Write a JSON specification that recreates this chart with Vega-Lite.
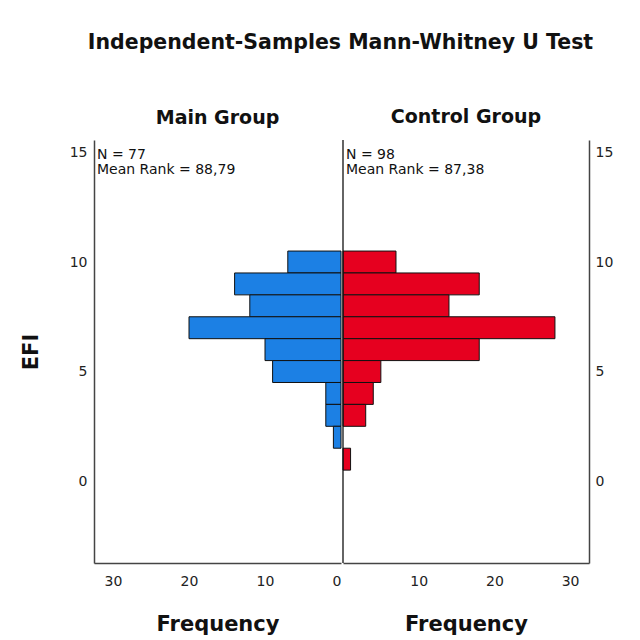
{
  "$schema": "https://vega.github.io/schema/vega-lite/v6.json",
  "padding": {"left": 20, "top": 32, "right": 5, "bottom": 5},
  "background": "white",
  "title": {"text": "Independent-Samples Mann-Whitney U Test", "fontSize": 20.5, "font": "DejaVu Sans", "fontWeight": "bold", "anchor": "middle", "dx": 24, "offset": 55, "color": "#111"},
  "config": {
    "view": {"stroke": null},
    "font": "DejaVu Sans",
    "concat": {"spacing": 0},
    "axis": {"ticks": false, "grid": false, "domainColor": "#444", "domainWidth": 1.5, "labelFontSize": 14, "labelColor": "#222", "titleFontSize": 21, "titleFontWeight": "bold", "titleColor": "#111", "titleFont": "DejaVu Sans", "labelFont": "DejaVu Sans"},
    "title": {"fontSize": 19, "fontWeight": "bold", "color": "#111", "font": "DejaVu Sans"}
  },
  "datasets": {
    "bars": [
      {"group": "Main Group", "efi": 10, "efi_low": 9.5, "efi_high": 10.5, "frequency": 7},
      {"group": "Main Group", "efi": 9, "efi_low": 8.5, "efi_high": 9.5, "frequency": 14},
      {"group": "Main Group", "efi": 8, "efi_low": 7.5, "efi_high": 8.5, "frequency": 12},
      {"group": "Main Group", "efi": 7, "efi_low": 6.5, "efi_high": 7.5, "frequency": 20},
      {"group": "Main Group", "efi": 6, "efi_low": 5.5, "efi_high": 6.5, "frequency": 10},
      {"group": "Main Group", "efi": 5, "efi_low": 4.5, "efi_high": 5.5, "frequency": 9},
      {"group": "Main Group", "efi": 4, "efi_low": 3.5, "efi_high": 4.5, "frequency": 2},
      {"group": "Main Group", "efi": 3, "efi_low": 2.5, "efi_high": 3.5, "frequency": 2},
      {"group": "Main Group", "efi": 2, "efi_low": 1.5, "efi_high": 2.5, "frequency": 1},
      {"group": "Control Group", "efi": 10, "efi_low": 9.5, "efi_high": 10.5, "frequency": 7},
      {"group": "Control Group", "efi": 9, "efi_low": 8.5, "efi_high": 9.5, "frequency": 18},
      {"group": "Control Group", "efi": 8, "efi_low": 7.5, "efi_high": 8.5, "frequency": 14},
      {"group": "Control Group", "efi": 7, "efi_low": 6.5, "efi_high": 7.5, "frequency": 28},
      {"group": "Control Group", "efi": 6, "efi_low": 5.5, "efi_high": 6.5, "frequency": 18},
      {"group": "Control Group", "efi": 5, "efi_low": 4.5, "efi_high": 5.5, "frequency": 5},
      {"group": "Control Group", "efi": 4, "efi_low": 3.5, "efi_high": 4.5, "frequency": 4},
      {"group": "Control Group", "efi": 3, "efi_low": 2.5, "efi_high": 3.5, "frequency": 3},
      {"group": "Control Group", "efi": 1, "efi_low": 0.5, "efi_high": 1.5, "frequency": 1}
    ],
    "stats": [
      {"group": "Main Group", "label": "N = 77\nMean Rank = 88,79"},
      {"group": "Control Group", "label": "N = 98\nMean Rank = 87,38"}
    ]
  },
  "hconcat": [
    {
      "width": 247,
      "height": 423,
      "title": {"text": "Main Group", "offset": 12},
      "layer": [
        {
          "data": {"name": "bars"},
          "transform": [{"filter": "datum.group === 'Main Group'"}],
          "mark": {"type": "rect", "fill": "#1c80e4", "stroke": "#111", "strokeWidth": 1},
          "encoding": {
            "x": {"field": "frequency", "type": "quantitative", "scale": {"domain": [0, 32.5], "reverse": true, "nice": false, "zero": false}, "axis": {"title": "Frequency", "values": [0, 10, 20, 30], "labelPadding": 11, "titlePadding": 25}},
            "x2": {"datum": 0},
            "y": {"field": "efi_low", "type": "quantitative", "scale": {"domain": [-3.74, 15.57], "nice": false, "zero": false}, "axis": {"title": "EFI", "values": [0, 5, 10, 15], "labelPadding": 7, "titlePadding": 28}},
            "y2": {"field": "efi_high"}
          }
        },
        {
          "data": {"name": "stats"},
          "transform": [{"filter": "datum.group === 'Main Group'"}],
          "mark": {"type": "text", "align": "left", "baseline": "top", "lineBreak": "\n", "fontSize": 14, "dx": 3, "dy": 8, "color": "#111", "lineHeight": 15, "font": "DejaVu Sans"},
          "encoding": {
            "x": {"datum": 32.5},
            "y": {"datum": 15.57},
            "text": {"field": "label", "type": "nominal"}
          }
        }
      ]
    },
    {
      "width": 246,
      "height": 423,
      "title": {"text": "Control Group", "offset": 12},
      "layer": [
        {
          "data": {"name": "bars"},
          "transform": [{"filter": "datum.group === 'Control Group'"}],
          "mark": {"type": "rect", "fill": "#e6001f", "stroke": "#111", "strokeWidth": 1},
          "encoding": {
            "x": {"field": "frequency", "type": "quantitative", "scale": {"domain": [0, 32.5], "nice": false, "zero": false}, "axis": {"title": "Frequency", "values": [10, 20, 30], "labelPadding": 11, "titlePadding": 25}},
            "x2": {"datum": 0},
            "y": {"field": "efi_low", "type": "quantitative", "scale": {"domain": [-3.74, 15.57], "nice": false, "zero": false}, "axis": {"title": null, "orient": "right", "values": [0, 5, 10, 15], "labelPadding": 6}},
            "y2": {"field": "efi_high"}
          }
        },
        {
          "data": {"name": "stats"},
          "transform": [{"filter": "datum.group === 'Control Group'"}],
          "mark": {"type": "text", "align": "left", "baseline": "top", "lineBreak": "\n", "fontSize": 14, "dx": 3, "dy": 8, "color": "#111", "lineHeight": 15, "font": "DejaVu Sans"},
          "encoding": {
            "x": {"datum": 0},
            "y": {"datum": 15.57},
            "text": {"field": "label", "type": "nominal"}
          }
        },
        {
          "data": {"name": "stats"},
          "transform": [{"filter": "datum.group === 'Control Group'"}],
          "mark": {"type": "rule", "color": "#111", "strokeWidth": 1.3},
          "encoding": {
            "x": {"datum": 0}
          }
        }
      ]
    }
  ]
}
